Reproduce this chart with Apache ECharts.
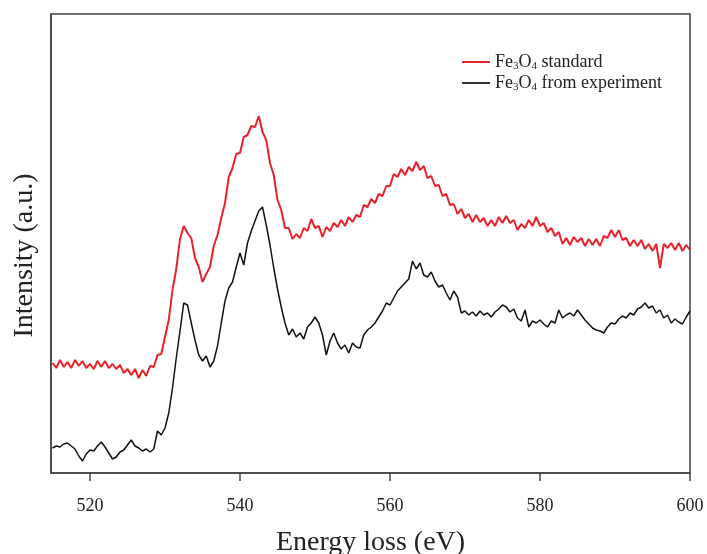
<!DOCTYPE html>
<html>
<head>
<meta charset="utf-8">
<script src="https://cdn.jsdelivr.net/npm/echarts@6/dist/echarts.min.js"></script>
<style>
  html, body { margin: 0; padding: 0; background: #fff; }
  #chart { width: 707px; height: 554px; }
</style>
</head>
<body>
<div id="chart"></div>
<script>
// energy grid: 515 .. 600 eV, 0.5 eV apart
const energyStart = 515;
const energyStep = 0.5;

// Fe3O4 standard (red), intensity in arbitrary units, one row = 5 eV
const standardValues = [
  110, 105, 113, 106, 111, 105, 113, 107, 112, 105, // 515
  109, 104, 112, 106, 112, 105, 109, 104, 108, 100, // 520
  104, 98, 104, 95, 103, 97, 107, 106, 118, 119,     // 525
  136, 153, 183, 204, 234, 247, 240, 235, 215, 206, // 530
  191, 199, 206, 227, 238, 255, 270, 296, 305, 319, // 535
  320, 336, 338, 347, 346, 357, 341, 333, 310, 298, // 540
  273, 263, 245, 245, 234, 239, 235, 245, 242, 254, // 545
  245, 247, 236, 246, 242, 250, 246, 253, 247, 256, // 550
  251, 258, 256, 268, 266, 274, 270, 279, 277, 287, // 555
  287, 299, 296, 304, 298, 306, 302, 311, 303, 307, // 560
  295, 297, 287, 288, 277, 279, 268, 269, 259, 264, // 565
  255, 259, 251, 258, 251, 255, 247, 253, 247, 256, // 570
  250, 257, 250, 253, 243, 249, 245, 253, 247, 256, // 575
  247, 250, 241, 245, 237, 241, 229, 235, 228, 236, // 580
  231, 235, 227, 234, 228, 234, 227, 237, 235, 243, // 585
  236, 243, 233, 235, 227, 233, 227, 233, 224, 229, // 590
  222, 229, 205, 229, 225, 230, 223, 230, 222, 228, // 595
  223                                               // 600
];

// Fe3O4 from experiment (black)
const experimentValues = [
  25, 27, 26, 29, 30, 27, 24, 17, 12, 19,           // 515
  23, 22, 27, 31, 26, 20, 14, 16, 21, 23,           // 520
  28, 33, 27, 25, 22, 24, 21, 24, 42, 38,           // 525
  45, 60, 85, 115, 142, 170, 168, 150, 133, 118,    // 530
  112, 117, 106, 112, 127, 150, 172, 185, 191, 206, // 535
  220, 208, 230, 242, 252, 262, 266, 248, 228, 205, // 540
  184, 166, 150, 138, 144, 136, 140, 134, 146, 150, // 545
  156, 150, 138, 118, 132, 140, 130, 124, 128, 120, // 550
  130, 126, 125, 138, 143, 146, 150, 156, 162, 170, // 555
  168, 175, 182, 186, 190, 194, 212, 204, 210, 198, // 560
  196, 201, 192, 186, 188, 180, 173, 182, 176, 160, // 565
  162, 158, 161, 157, 162, 158, 160, 156, 161, 164, // 570
  168, 166, 161, 164, 155, 152, 163, 146, 152, 150, // 575
  153, 149, 146, 152, 150, 163, 155, 158, 160, 157, // 580
  163, 158, 153, 149, 145, 143, 142, 140, 146, 150, // 585
  149, 154, 157, 155, 160, 158, 164, 166, 170, 165, // 590
  167, 160, 163, 155, 158, 150, 154, 151, 149, 156, // 595
  162                                               // 600
];

const xTicks = [520, 540, 560, 580, 600];

const seriesNames = ['Fe3O4 standard', 'Fe3O4 from experiment'];
const legendRich = {
  'Fe3O4 standard': '{a|Fe}{b|3}{a|O}{b|4}{a| standard}',
  'Fe3O4 from experiment': '{a|Fe}{b|3}{a|O}{b|4}{a| from experiment}'
};

const toPairs = vals => vals.map((v, i) => [energyStart + i * energyStep, v]);

const serif = '"Liberation Serif", "DejaVu Serif", serif';
const chart = echarts.init(document.getElementById('chart'));

chart.setOption({
  animation: false,
  textStyle: { fontFamily: serif },
  grid: {
    left: 51,
    right: 17,
    top: 14,
    bottom: 81,
    outerBoundsMode: 'none',
    containLabel: false,
    show: true,
    borderColor: '#444',
    borderWidth: 1.5
  },
  legend: {
    orient: 'vertical',
    left: 457,
    top: 48,
    itemWidth: 28,
    itemHeight: 2,
    itemGap: 2,
    icon: 'rect',
    data: seriesNames,
    formatter: name => legendRich[name],
    textStyle: {
      color: '#222',
      rich: {
        a: { fontSize: 18, fontFamily: serif, color: '#222', lineHeight: 20 },
        b: { fontSize: 11, fontFamily: serif, color: '#222', lineHeight: 11, verticalAlign: 'bottom' }
      }
    }
  },
  xAxis: {
    type: 'value',
    min: 514.8,
    max: 600,
    name: 'Energy loss (eV)',
    nameLocation: 'middle',
    nameGap: 56,
    nameTextStyle: { fontSize: 28, color: '#222', fontFamily: serif },
    axisLine: { show: true, lineStyle: { color: '#444', width: 1.5 } },
    axisTick: {
      show: true,
      customValues: xTicks,
      length: 8,
      lineStyle: { color: '#444', width: 1.5 }
    },
    axisLabel: {
      customValues: xTicks,
      fontSize: 18,
      color: '#222',
      margin: 24,
      fontFamily: serif
    },
    splitLine: { show: false }
  },
  yAxis: {
    type: 'value',
    min: 0,
    max: 459,
    name: 'Intensity (a.u.)',
    nameLocation: 'middle',
    nameGap: 12,
    nameTextStyle: { fontSize: 28, color: '#222', fontFamily: serif, padding: [0, 24, 0, 0] },
    axisLine: { show: true, lineStyle: { color: '#444', width: 1.5 } },
    axisTick: { show: false },
    axisLabel: { show: false },
    splitLine: { show: false }
  },
  series: [
    {
      name: seriesNames[0],
      type: 'line',
      data: toPairs(standardValues),
      showSymbol: false,
      symbol: 'none',
      lineStyle: { color: '#e8232b', width: 2 },
      itemStyle: { color: '#e8232b' }
    },
    {
      name: seriesNames[1],
      type: 'line',
      data: toPairs(experimentValues),
      showSymbol: false,
      symbol: 'none',
      lineStyle: { color: '#111', width: 1.5 },
      itemStyle: { color: '#333' }
    }
  ]
});
</script>
</body>
</html>
